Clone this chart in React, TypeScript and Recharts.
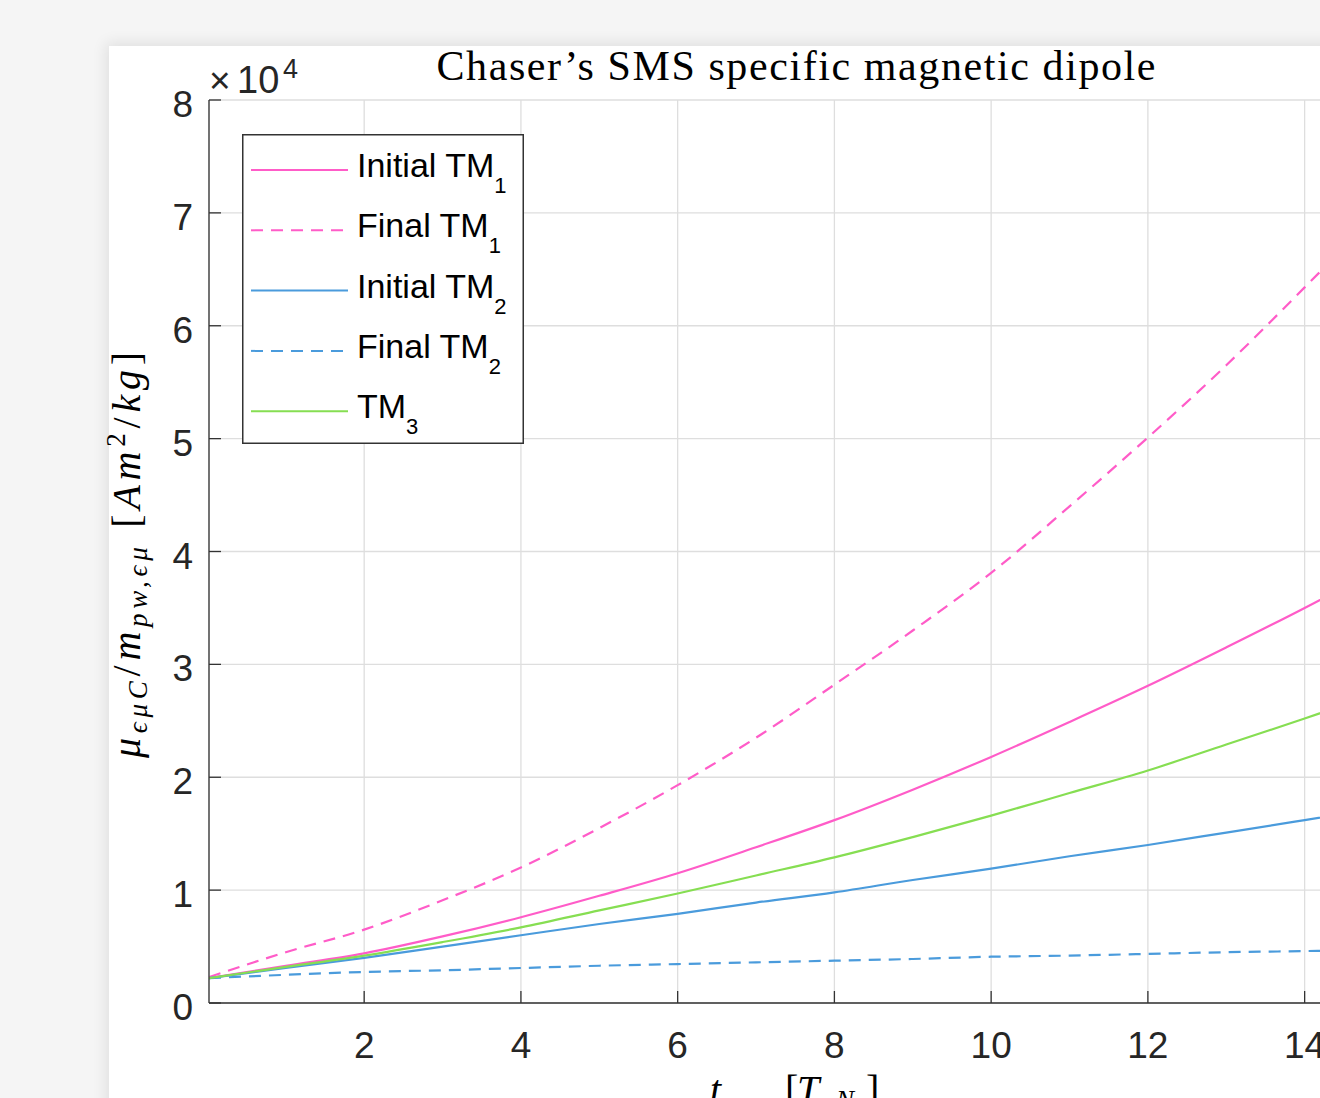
import React from "react";
import { LineChart, Line, XAxis, YAxis, CartesianGrid, Legend } from "recharts";

// t values [T_N]
const tValues = [0.02, 1, 2, 3, 4, 5, 6, 7, 8, 9, 10, 11, 12, 13, 14, 15];

// specific magnetic dipole [Am^2/kg]
const initialTM1 = [2200, 3300, 4400, 5900, 7600, 9500, 11500, 13800, 16200, 18900, 21800, 24900, 28100, 31500, 35000, 38700];
const finalTM1 = [2300, 4500, 6500, 9100, 12000, 15500, 19300, 23500, 28200, 33000, 38100, 44000, 50100, 56500, 63400, 70500];
const initialTM2 = [2200, 3100, 4000, 5000, 6000, 7000, 7900, 8900, 9800, 10900, 11900, 13000, 14000, 15100, 16200, 17300];
const finalTM2 = [2200, 2500, 2750, 2900, 3100, 3300, 3450, 3600, 3750, 3900, 4100, 4200, 4350, 4500, 4600, 4750];
const tm3 = [2200, 3200, 4200, 5400, 6700, 8200, 9700, 11300, 12900, 14700, 16600, 18600, 20600, 22900, 25200, 27600];

const xTicks = [2, 4, 6, 8, 10, 12, 14];
const yTicks = [0, 10000, 20000, 30000, 40000, 50000, 60000, 70000, 80000];

const seriesKeys = ["initialTM1", "finalTM1", "initialTM2", "finalTM2", "tm3"];
const labelBase = ["Initial TM", "Final TM", "Initial TM", "Final TM", "TM"];
const labelSub = ["1", "1", "2", "2", "3"];

const PINK = "#ff5cc8";
const BLUE = "#4a9bdc";
const GREEN = "#86de52";
const colors = [PINK, PINK, BLUE, BLUE, GREEN];
const dashes = [undefined, "12 8", undefined, "12 8", undefined];

const data = tValues.map((t, i) => ({
  t,
  initialTM1: initialTM1[i],
  finalTM1: finalTM1[i],
  initialTM2: initialTM2[i],
  finalTM2: finalTM2[i],
  tm3: tm3[i],
}));

const AXIS = "#333333";
const SANS = "'Liberation Sans', Arial, Helvetica, sans-serif";
const SERIF = "'Liberation Serif', 'Times New Roman', serif";

const BottomTick = ({ x, y, payload }: any) => (
  <g>
    <line x1={x} x2={x} y1={y} y2={y - 12} stroke={AXIS} strokeWidth={1.3} />
    <text x={x} y={y + 55} textAnchor="middle" fontFamily={SANS} fontSize={37} fill="#262626">
      {payload.value}
    </text>
  </g>
);

const TopTick = ({ x, y }: any) => (
  <line x1={x} x2={x} y1={y} y2={y + 12} stroke={AXIS} strokeWidth={1.3} />
);

const LeftTick = ({ x, y, payload }: any) => (
  <g>
    <line x1={x + 16} x2={x + 28} y1={y} y2={y} stroke={AXIS} strokeWidth={1.3} />
    <text x={x} y={y + 17} textAnchor="end" fontFamily={SANS} fontSize={37} fill="#262626">
      {payload.value / 10000}
    </text>
  </g>
);

const LegendBox = () => (
  <svg width={282} height={310} style={{ display: "block" }}>
    <rect x={0.75} y={0.75} width={280.5} height={308.5} fill="#fff" stroke={AXIS} strokeWidth={1.5} />
    {seriesKeys.map((k, i) => {
      const cy = 36 + i * 60.3;
      return (
        <g key={k}>
          <line x1={9} x2={106} y1={cy} y2={cy} stroke={colors[i]} strokeWidth={2} strokeDasharray={dashes[i]} />
          <text x={115} y={cy + 7} fontFamily={SANS} fontSize={34} fill="#000">
            {labelBase[i]}
            <tspan dy={16} fontSize={22}>
              {labelSub[i]}
            </tspan>
          </text>
        </g>
      );
    })}
  </svg>
);

export default function App() {
  return (
    <div
      style={{
        position: "absolute",
        left: 0,
        top: 0,
        width: 1320,
        height: 1098,
        overflow: "hidden",
        background: "#f5f5f5",
      }}>
      {/* figure panel */}
      <div
        style={{
          position: "absolute",
          left: 109,
          top: 46,
          width: 1400,
          height: 1200,
          background: "#fff",
          boxShadow: "0 0 14px 3px rgba(0,0,0,0.09)",
        }}
      />
      <div style={{ position: "absolute", left: 0, top: 0 }}>
        <LineChart width={1420} height={1100} data={data} margin={{ top: 100, right: 37, bottom: 37, left: 129 }}>
          <CartesianGrid stroke="#dedede" strokeWidth={1.3} />
          <XAxis
            dataKey="t"
            type="number"
            domain={[0.02, 15]}
            ticks={xTicks}
            allowDataOverflow
            height={60}
            tickSize={0}
            tickMargin={0}
            tick={<BottomTick />}
            axisLine={{ stroke: AXIS, strokeWidth: 1.3 }}
            tickLine={false}
          />
          <XAxis
            xAxisId="top"
            orientation="top"
            dataKey="t"
            type="number"
            domain={[0.02, 15]}
            ticks={xTicks}
            allowDataOverflow
            height={0}
            tickSize={0}
            tickMargin={0}
            tick={<TopTick />}
            axisLine={{ stroke: AXIS, strokeWidth: 1.3 }}
            tickLine={false}
          />
          <YAxis
            type="number"
            domain={[0, 80000]}
            ticks={yTicks}
            width={80}
            tickSize={0}
            tickMargin={16}
            tick={<LeftTick />}
            axisLine={{ stroke: AXIS, strokeWidth: 1.3 }}
            tickLine={false}
          />
          <Legend
            layout="vertical"
            align="center"
            verticalAlign="middle"
            wrapperStyle={{ left: 242, top: 134, width: 282, height: 310 }}
            content={() => <LegendBox />}
          />
          {seriesKeys.map((k, i) => (
            <Line
              key={k}
              dataKey={k}
              type="monotone"
              stroke={colors[i]}
              strokeWidth={2.2}
              strokeDasharray={dashes[i]}
              dot={false}
              activeDot={false}
              isAnimationActive={false}
            />
          ))}
        </LineChart>
      </div>
      {/* titles and axis labels */}
      <svg width={1320} height={1098} style={{ position: "absolute", left: 0, top: 0, pointerEvents: "none" }}>
        <text x={796} y={80} textAnchor="middle" fontFamily={SERIF} fontSize={42} fill="#000" textLength={719} lengthAdjust="spacing">
          Chaser’s SMS specific magnetic dipole
        </text>
        <text x={209} y={93} fontFamily={SANS} fontSize={37} fill="#262626">×</text>
        <text x={237} y={93} fontFamily={SANS} fontSize={38} fill="#262626">10</text>
        <text x={283} y={78} fontFamily={SANS} fontSize={27} fill="#262626">4</text>
        <text
          transform="rotate(-90 140 555)"
          x={140}
          y={555}
          textAnchor="middle"
          fontFamily={SERIF}
          fontSize={40}
          fill="#000"
          textLength={406}
          lengthAdjust="spacing">
          <tspan fontStyle="italic">μ</tspan>
          <tspan fontStyle="italic" fontSize={27} dy={7}>ϵμC</tspan>
          <tspan dy={-7}>/</tspan>
          <tspan fontStyle="italic">m</tspan>
          <tspan fontStyle="italic" fontSize={27} dy={7}>pw,ϵμ</tspan>
          <tspan dy={-7}> [</tspan>
          <tspan fontStyle="italic">Am</tspan>
          <tspan fontSize={27} dy={-15}>2</tspan>
          <tspan dy={15}>/</tspan>
          <tspan fontStyle="italic">kg</tspan>
          <tspan>]</tspan>
        </text>
        <text y={1103} fontFamily={SERIF} fontSize={40} fill="#000">
          <tspan x={710} fontStyle="italic">t</tspan>
          <tspan fontStyle="italic" fontSize={27} dy={8}>man</tspan>
          <tspan x={785} dy={-8}>[</tspan>
          <tspan x={797} fontStyle="italic">T</tspan>
          <tspan x={836} fontStyle="italic" fontSize={27} dy={6}>N</tspan>
          <tspan x={866} dy={-6}>]</tspan>
        </text>
      </svg>
    </div>
  );
}
